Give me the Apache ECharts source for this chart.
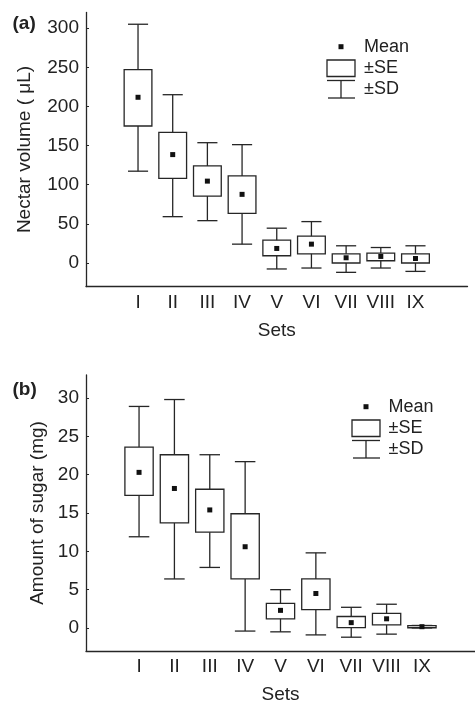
<!DOCTYPE html>
<html><head><meta charset="utf-8">
<script src="https://cdn.jsdelivr.net/npm/echarts@6/dist/echarts.min.js"></script>
<style>html,body{margin:0;padding:0;background:#fff}#c{width:475px;height:705px}</style>
</head><body><div id="c"></div>
<script>
// ---- data ----
const categories = ['', 'I', 'II', 'III', 'IV', 'V', 'VI', 'VII', 'VIII', 'IX', ' '];
const sets = ['I', 'II', 'III', 'IV', 'V', 'VI', 'VII', 'VIII', 'IX'];

const nectarMean   = [211.7, 138.5, 104.6, 87.7, 18.6, 24.1, 6.7, 8.4, 5.8];
const nectarSeLow  = [175.0, 108.0, 85.5, 63.5, 9.3, 11.8, 0.0, 2.9, 0.0];
const nectarSeHigh = [247.0, 166.8, 124.0, 111.3, 29.2, 34.3, 11.8, 12.7, 11.8];
const nectarSdLow  = [117.3, 59.2, 54.1, 24.1, -7.6, -6.4, -11.9, -6.4, -10.7];
const nectarSdHigh = [305.0, 215.0, 153.7, 151.2, 44.5, 52.9, 22.0, 19.8, 22.0];

const sugarMean   = [20.3, 18.2, 15.4, 10.6, 2.3, 4.5, 0.7, 1.2, 0.17];
const sugarSeLow  = [17.3, 13.7, 12.5, 6.4, 1.2, 2.4, 0.05, 0.4, 0.03];
const sugarSeHigh = [23.6, 22.6, 18.1, 14.9, 3.2, 6.4, 1.5, 1.9, 0.31];
const sugarSdLow  = [11.9, 6.4, 7.9, -0.4, -0.5, -0.9, -1.2, -0.8, 0.01];
const sugarSdHigh = [28.9, 29.8, 22.6, 21.7, 5.0, 9.8, 2.7, 3.1, 0.33];

const nectarTicks = [0, 50, 100, 150, 200, 250, 300];
const sugarTicks  = [0, 5, 10, 15, 20, 25, 30];

// ---- styling ----
const INK = '#262626';
const FONT = 'Liberation Sans, Arial, sans-serif';

function rows(sdLo, seLo, mean, seHi, sdHi) {
  return sets.map((s, i) => [s, sdLo[i], seLo[i], mean[i], seHi[i], sdHi[i]]);
}

function renderBox(params, api) {
  const x = api.value(0);
  const band = api.size([1, 0])[0];
  const boxW = band * 0.8;
  const capW = band * 0.58;
  const pSdLo = api.coord([x, api.value(1)]);
  const pSeLo = api.coord([x, api.value(2)]);
  const pMean = api.coord([x, api.value(3)]);
  const pSeHi = api.coord([x, api.value(4)]);
  const pSdHi = api.coord([x, api.value(5)]);
  const cx = pMean[0];
  const ls = { stroke: INK, lineWidth: 1.3 };
  return {
    type: 'group',
    children: [
      { type: 'line', shape: { x1: cx, y1: pSdHi[1], x2: cx, y2: pSdLo[1] }, style: ls },
      { type: 'line', shape: { x1: cx - capW / 2, y1: pSdHi[1], x2: cx + capW / 2, y2: pSdHi[1] }, style: ls },
      { type: 'line', shape: { x1: cx - capW / 2, y1: pSdLo[1], x2: cx + capW / 2, y2: pSdLo[1] }, style: ls },
      { type: 'rect', shape: { x: cx - boxW / 2, y: pSeHi[1], width: boxW, height: pSeLo[1] - pSeHi[1] },
        style: { fill: '#fff', stroke: INK, lineWidth: 1.3 } },
      { type: 'rect', shape: { x: cx - 2.5, y: pMean[1] - 2.5, width: 5, height: 5 }, style: { fill: '#111' } }
    ]
  };
}

function xAxisCfg(gridIndex, margin, nameGap) {
  return {
    type: 'category', gridIndex, data: categories, boundaryGap: true,
    axisLine: { onZero: false, lineStyle: { color: INK, width: 1.3 } },
    axisTick: { alignWithLabel: true, inside: true, length: 3, lineStyle: { color: INK } },
    axisLabel: { interval: 0, color: '#222', fontSize: 19, fontFamily: FONT, margin },
    name: 'Sets', nameLocation: 'middle', nameGap,
    nameTextStyle: { color: '#222', fontSize: 19, fontFamily: FONT },
    splitLine: { show: false }
  };
}

function yAxisCfg(gridIndex, min, max, ticks, name, nameGap) {
  return {
    type: 'value', gridIndex, min, max,
    axisLine: { show: true, onZero: false, lineStyle: { color: INK, width: 1.3 } },
    axisTick: { show: true, inside: true, length: 3, customValues: ticks, lineStyle: { color: INK } },
    axisLabel: { customValues: ticks, color: '#222', fontSize: 19, fontFamily: FONT, margin: 7 },
    splitLine: { show: false },
    name, nameLocation: 'middle', nameGap,
    nameTextStyle: { color: '#222', fontSize: 19, fontFamily: FONT }
  };
}

function legendGroup(mx, my, tx, boxTop) {
  const ls = { stroke: INK, lineWidth: 1.3 };
  const txt = (t, y) => ({ type: 'text', x: tx, y, style: { text: t, fill: '#222', font: '18px ' + FONT, verticalAlign: 'middle', align: 'left' } });
  const bx = mx - 14;
  return [
    { type: 'rect', shape: { x: mx - 2.5, y: my - 2.5, width: 5, height: 5 }, style: { fill: '#111' } },
    txt('Mean', my),
    { type: 'rect', shape: { x: bx, y: boxTop, width: 28, height: 16.5 }, style: { fill: '#fff', stroke: INK, lineWidth: 1.3 } },
    txt('±SE', boxTop + 8.3),
    { type: 'line', shape: { x1: bx, y1: boxTop + 20.5, x2: bx + 28, y2: boxTop + 20.5 }, style: ls },
    { type: 'line', shape: { x1: mx, y1: boxTop + 20.5, x2: mx, y2: boxTop + 38 }, style: ls },
    { type: 'line', shape: { x1: bx + 1, y1: boxTop + 38, x2: bx + 28, y2: boxTop + 38 }, style: ls },
    txt('±SD', boxTop + 29.5)
  ];
}

const chart = echarts.init(document.getElementById('c'), null, { renderer: 'canvas' });
chart.setOption({
  backgroundColor: '#fff',
  animation: false,
  grid: [
    { left: 86, top: 12.5, width: 381.5, height: 274 },
    { left: 86, top: 375, width: 396, height: 276 }
  ],
  xAxis: [xAxisCfg(0, 7, 35), xAxisCfg(1, 6, 34)],
  yAxis: [
    yAxisCfg(0, -30, 320, nectarTicks, 'Nectar volume ( μL)', 52),
    yAxisCfg(1, -3, 33, sugarTicks, 'Amount of sugar (mg)', 38)
  ],
  series: [
    { type: 'custom', name: 'nectar', xAxisIndex: 0, yAxisIndex: 0, renderItem: renderBox,
      encode: { x: 0, y: [1, 2, 3, 4, 5] },
      data: rows(nectarSdLow, nectarSeLow, nectarMean, nectarSeHigh, nectarSdHigh) },
    { type: 'custom', name: 'sugar', xAxisIndex: 1, yAxisIndex: 1, renderItem: renderBox,
      encode: { x: 0, y: [1, 2, 3, 4, 5] },
      data: rows(sugarSdLow, sugarSeLow, sugarMean, sugarSeHigh, sugarSdHigh) }
  ],
  graphic: [
    { type: 'text', x: 12.5, y: 24, style: { text: '(a)', fill: '#222', font: 'bold 19px ' + FONT, verticalAlign: 'middle' } },
    { type: 'text', x: 12.5, y: 390, style: { text: '(b)', fill: '#222', font: 'bold 19px ' + FONT, verticalAlign: 'middle' } },
    { type: 'group', children: legendGroup(341, 46.7, 364, 60) },
    { type: 'group', children: legendGroup(366, 406.7, 388.5, 420) }
  ]
});
</script>
</body></html>
